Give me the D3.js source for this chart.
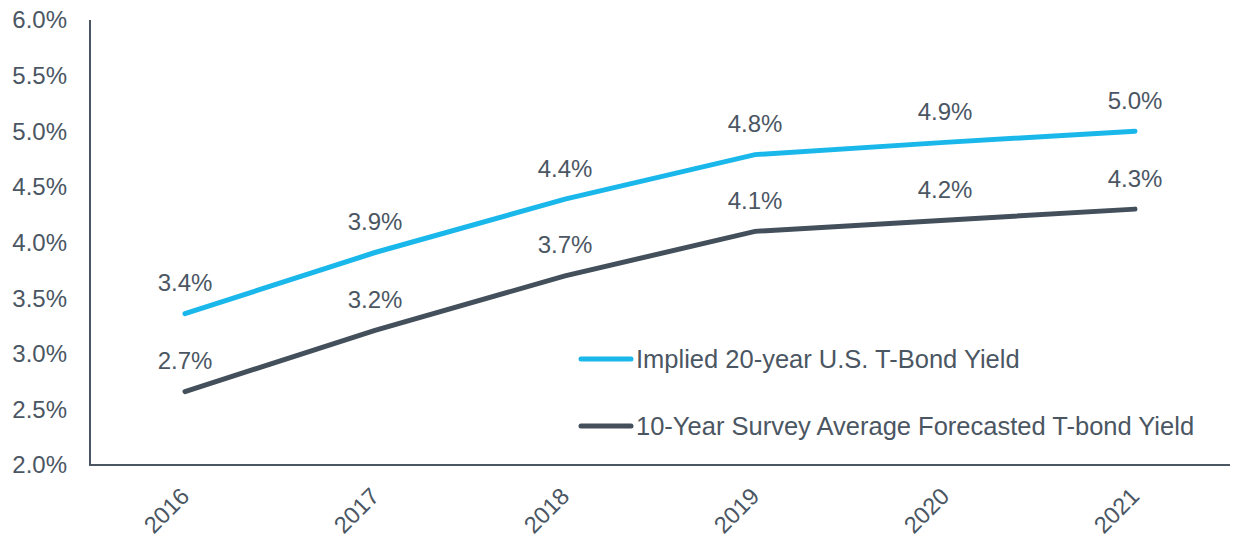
<!DOCTYPE html>
<html><head><meta charset="utf-8">
<script src="https://cdn.jsdelivr.net/npm/d3@7"></script>
<style>body{margin:0;background:#fff}text{font-family:"Liberation Sans",Arial,sans-serif}</style>
</head><body>
<script>
const years = ["2016","2017","2018","2019","2020","2021"];
const implied = [3.36, 3.91, 4.39, 4.79, 4.9, 5.0];
const survey = [2.66, 3.21, 3.7, 4.1, 4.2, 4.3];
const yTicks = [2.0, 2.5, 3.0, 3.5, 4.0, 4.5, 5.0, 5.5, 6.0];
const seriesNames = ["Implied 20-year U.S. T-Bond Yield", "10-Year Survey Average Forecasted T-bond Yield"];
const colors = ["#1ab7ea", "#434f5b"];
const textColor = "#4b5663";

const W = 1233, H = 538;
const m = {left: 90, right: 3, top: 20, bottom: 73};
const svg = d3.select("body").append("svg").attr("width", W).attr("height", H);
const x = d3.scaleBand().domain(years).range([m.left, W - m.right]);
const y = d3.scaleLinear().domain([2, 6]).range([H - m.bottom, m.top]);

// y tick labels
svg.append("g").selectAll("text").data(yTicks).join("text")
  .attr("x", 67).attr("y", d => y(d)).attr("dy", "0.35em")
  .attr("text-anchor", "end").attr("fill", textColor).style("font-size", "24px")
  .text(d => d.toFixed(1) + "%");

// axes lines
svg.append("line").attr("x1", m.left).attr("x2", m.left).attr("y1", y(6)).attr("y2", y(2))
  .attr("stroke", textColor).attr("stroke-width", 2);
svg.append("line").attr("x1", m.left - 1).attr("x2", W - m.right).attr("y1", y(2)).attr("y2", y(2))
  .attr("stroke", textColor).attr("stroke-width", 2);

// x labels
svg.append("g").selectAll("text").data(years).join("text")
  .attr("transform", d => `translate(${x(d) + x.bandwidth()/2},${y(2) + 27}) rotate(-45)`)
  .attr("text-anchor", "end").attr("dy", "0.35em").attr("fill", textColor).style("font-size", "23.5px")
  .text(d => d);

const line = d3.line().x((d, i) => x(years[i]) + x.bandwidth()/2).y(d => y(d));
[implied, survey].forEach((s, k) => {
  svg.append("path").datum(s).attr("d", line).attr("fill", "none")
    .attr("stroke", colors[k]).attr("stroke-width", 5).attr("stroke-linecap", "round");
  svg.append("g").selectAll("text").data(s).join("text")
    .attr("x", (d, i) => x(years[i]) + x.bandwidth()/2)
    .attr("y", d => y(d) - 31).attr("dy", "0.35em")
    .attr("text-anchor", "middle").attr("fill", textColor).style("font-size", "24px")
    .text(d => d.toFixed(1) + "%");
});

// legend
const lg = svg.append("g");
seriesNames.forEach((n, k) => {
  const ly = 359 + k * 67;
  lg.append("line").attr("x1", 581).attr("x2", 631).attr("y1", ly).attr("y2", ly)
    .attr("stroke", colors[k]).attr("stroke-width", 5).attr("stroke-linecap", "round");
  lg.append("text").attr("x", 636).attr("y", ly).attr("dy", "0.35em")
    .attr("fill", textColor).style("font-size", "25.5px").text(n);
});
</script>
</body></html>
